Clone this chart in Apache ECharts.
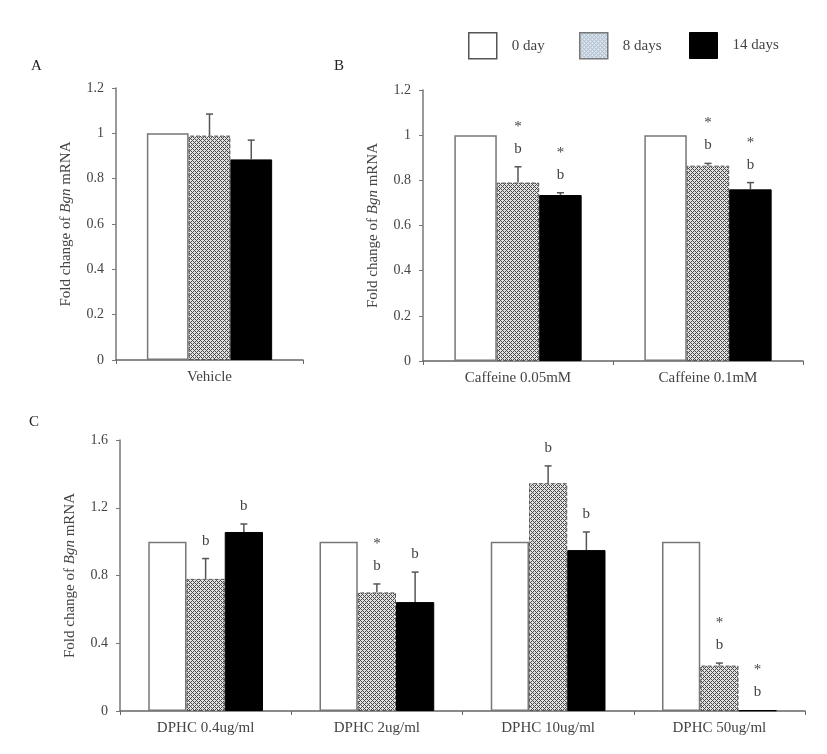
<!DOCTYPE html>
<html><head><meta charset="utf-8">
<script src="https://cdn.jsdelivr.net/npm/echarts@6/dist/echarts.min.js"></script>
<style>html,body{margin:0;padding:0;background:#fff}#c{width:827px;height:754px}</style>
</head><body><div id="c"></div>
<script>
// ---- data ----
const seriesNames = ['0 day', '8 days', '14 days'];
const groupsA = ['Vehicle'];
const day0A = [1];
const day8A = [0.99];
const day14A = [0.885];
const err8A = [1.085];
const err14A = [0.97];
const annot8A = [''];
const annot14A = [''];

const groupsB = ['Caffeine 0.05mM', 'Caffeine 0.1mM'];
const day0B = [1, 1];
const day8B = [0.79, 0.865];
const day14B = [0.735, 0.76];
const err8B = [0.86, 0.875];
const err14B = [0.745, 0.79];
const annot8B = ['*\nb', '*\nb'];
const annot14B = ['*\nb', '*\nb'];

const groupsC = ['DPHC 0.4ug/ml', 'DPHC 2ug/ml', 'DPHC 10ug/ml', 'DPHC 50ug/ml'];
const day0C = [1, 1, 1, 1];
const day8C = [0.78, 0.70, 1.345, 0.268];
const day14C = [1.057, 0.643, 0.95, 0.004];
const err8C = [0.90, 0.75, 1.447, 0.283];
const err14C = [1.104, 0.82, 1.057, 0.004];
const annot8C = ['b', '*\nb', 'b', '*\nb'];
const annot14C = ['b', 'b', 'b', '*\nb'];

// ---- styles ----
const FONT = 'Liberation Serif';
const TXT = '#444';
function makePattern(bg, fg) {
  const cv = document.createElement('canvas');
  cv.width = 4; cv.height = 4;
  const ctx = cv.getContext('2d');
  ctx.fillStyle = bg; ctx.fillRect(0, 0, 4, 4);
  ctx.fillStyle = fg;
  for (let x = 0; x < 4; x++) for (let y = 0; y < 4; y++) {
    if ((x + y) % 4 === 0 || (x - y + 4) % 4 === 0) ctx.fillRect(x, y, 1, 1);
  }
  return { image: cv, repeat: 'repeat' };
}
const hatch = makePattern('#e2e2e2', '#4a4a4a');
const hatchLegend = makePattern('#e4eef8', '#9aa8b8');

const GAP = 0.33;
const barStyles = [
  { color: '#ffffff', borderColor: '#777', borderWidth: 1.5 },
  { color: hatch, borderColor: '#555', borderWidth: 1, borderType: 'dashed' },
  { color: '#000000', borderColor: '#000', borderWidth: 1 }
];

function barSeries(idx, name, data, k) {
  return {
    type: 'bar', name: name, data: data, xAxisIndex: idx, yAxisIndex: idx,
    barGap: '0%', barCategoryGap: (GAP * 100) + '%',
    itemStyle: barStyles[k], emphasis: { disabled: true }, z: 2
  };
}
function errSeries(idx, vals, errs, annots, k) {
  return {
    type: 'custom', xAxisIndex: idx, yAxisIndex: idx, z: 5, silent: true,
    data: vals.map((v, i) => [i, v, errs[i]]),
    encode: { x: 0, y: 2 },
    renderItem: function (params, api) {
      const i = params.dataIndex;
      const cat = api.value(0), v = api.value(1), e = api.value(2);
      const base = api.coord([cat, v]);
      const top = api.coord([cat, e]);
      const catW = api.size([1, 0])[0];
      const bw = catW * (1 - GAP) / 3;
      const x = base[0] + (k - 1) * bw;
      const children = [];
      if (e > v + 1e-6) {
        children.push({ type: 'line', shape: { x1: x, y1: base[1], x2: x, y2: top[1] }, style: { stroke: '#555', lineWidth: 1.5 } });
        children.push({ type: 'line', shape: { x1: x - 3.5, y1: top[1], x2: x + 3.5, y2: top[1] }, style: { stroke: '#555', lineWidth: 1.5 } });
      }
      const t = annots[i];
      if (t) {
        children.push({ type: 'text', style: { text: t, x: x, y: top[1] - 7, textAlign: 'center', textVerticalAlign: 'bottom', font: '15px "' + FONT + '"', lineHeight: 22, fill: TXT } });
      }
      return { type: 'group', children: children };
    }
  };
}

function yAxis(idx, max, interval) {
  return {
    type: 'value', gridIndex: idx, min: 0, max: max, interval: interval,
    splitLine: { show: false },
    axisLine: { show: true, lineStyle: { color: '#777', width: 1.5 } },
    axisTick: { show: true, length: 4, lineStyle: { color: '#777' } },
    axisLabel: { color: TXT, fontFamily: FONT, fontSize: 14, margin: 12 },
    name: 'Fold change of {i|Bgn} mRNA', nameLocation: 'middle', nameGap: 42,
    nameTextStyle: { color: TXT, fontFamily: FONT, fontSize: 15, rich: { i: { fontStyle: 'italic', fontFamily: FONT, fontSize: 15, color: TXT } } }
  };
}
function xAxis(idx, cats) {
  return {
    type: 'category', gridIndex: idx, data: cats,
    axisLine: { show: true, lineStyle: { color: '#666', width: 1.5 } },
    axisTick: { show: true, length: 4, lineStyle: { color: '#666' } },
    axisLabel: { color: TXT, fontFamily: FONT, fontSize: 15, margin: 10 }
  };
}

const chart = echarts.init(document.getElementById('c'), null, { renderer: 'canvas' });
const series = [];
[[day0A, day8A, day14A], [day0B, day8B, day14B], [day0C, day8C, day14C]].forEach((arr, idx) => {
  arr.forEach((d, k) => series.push(barSeries(idx, seriesNames[k], d, k)));
});
series.push(errSeries(0, day8A, err8A, annot8A, 1));
series.push(errSeries(0, day14A, err14A, annot14A, 2));
series.push(errSeries(1, day8B, err8B, annot8B, 1));
series.push(errSeries(1, day14B, err14B, annot14B, 2));
series.push(errSeries(2, day8C, err8C, annot8C, 1));
series.push(errSeries(2, day14C, err14C, annot14C, 2));

const legendCommon = { icon: 'rect', itemWidth: 28, itemHeight: 26, selectedMode: false,
  textStyle: { fontFamily: FONT, fontSize: 15, color: TXT, padding: [0, 0, 0, 10] } };

chart.setOption({
  animation: false,
  backgroundColor: '#fff',
  title: [
    { text: 'A', left: 26, top: 54, textStyle: { fontFamily: FONT, fontSize: 15, fontWeight: 'normal', color: '#222' } },
    { text: 'B', left: 329, top: 54, textStyle: { fontFamily: FONT, fontSize: 15, fontWeight: 'normal', color: '#222' } },
    { text: 'C', left: 24, top: 410, textStyle: { fontFamily: FONT, fontSize: 15, fontWeight: 'normal', color: '#222' } }
  ],
  legend: [
    Object.assign({ left: 463, top: 27, data: [{ name: '0 day', itemStyle: { color: '#fff', borderColor: '#555', borderWidth: 1.5 } }] }, legendCommon),
    Object.assign({ left: 574, top: 27, data: [{ name: '8 days', itemStyle: { color: hatchLegend, borderColor: '#777', borderWidth: 1.5 } }] }, legendCommon),
    Object.assign({ left: 684, top: 27, data: [{ name: '14 days', itemStyle: { color: '#000', borderColor: '#000', borderWidth: 1 } }] }, legendCommon)
  ],
  grid: [
    { left: 116, top: 88, width: 187, height: 272 },
    { left: 423, top: 90, width: 380, height: 271 },
    { left: 120, top: 440, width: 685, height: 271 }
  ],
  xAxis: [xAxis(0, groupsA), xAxis(1, groupsB), xAxis(2, groupsC)],
  yAxis: [yAxis(0, 1.2, 0.2), yAxis(1, 1.2, 0.2), yAxis(2, 1.6, 0.4)],
  series: series
});
</script>
</body></html>
